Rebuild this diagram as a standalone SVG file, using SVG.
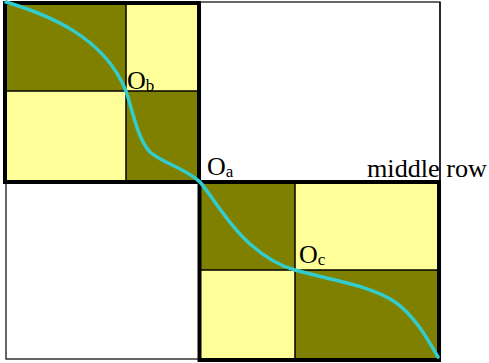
<svg xmlns="http://www.w3.org/2000/svg" width="489" height="363" viewBox="0 0 489 363">
<style>
.thin{fill:none;stroke:#000;stroke-width:1.2}
.thick{fill:none;stroke:#000;stroke-width:4}
.div{fill:none;stroke:#000;stroke-width:1.5}
.dk{fill:#808000}
.lt{fill:#FFFF99}
.lbl{font-family:"Liberation Serif","Times New Roman",serif;font-size:26px;fill:#000}
.sub{font-size:17px}
.curve{fill:none;stroke:#33CCCC;stroke-width:3.5;stroke-linecap:round}
</style>
<rect width="489" height="363" fill="#fff"/>
<g id="top-right-cell">
<rect class="thin" x="199" y="2" width="241" height="180"/>
</g>
<g id="bottom-left-cell">
<rect class="thin" x="6" y="182" width="193" height="177"/>
</g>
<g id="block-b">
<rect class="dk" x="5" y="3" width="121" height="88"/>
<rect class="lt" x="126" y="3" width="73" height="88"/>
<rect class="lt" x="5" y="91" width="121" height="91"/>
<rect class="dk" x="126" y="91" width="73" height="91"/>
<line class="div" x1="126" y1="3" x2="126" y2="182"/>
<line class="div" x1="5" y1="91" x2="199" y2="91"/>
<rect class="thick" x="5" y="3" width="194" height="179"/>
</g>
<g id="block-c">
<rect class="dk" x="199" y="182" width="96" height="88"/>
<rect class="lt" x="295" y="182" width="144" height="88"/>
<rect class="lt" x="199" y="270" width="96" height="90"/>
<rect class="dk" x="295" y="270" width="144" height="90"/>
<line class="div" x1="295" y1="182" x2="295" y2="360"/>
<line class="div" x1="199" y1="270" x2="439" y2="270"/>
<rect class="thick" x="199.5" y="182" width="239.5" height="178"/>
</g>
<g id="connectors">
<path class="curve" d="M6,2 C46,14 104,36 126,91 C133,112 138,140 150,152 C162,163 185,168 200,182 C212,196 228,225 250,244 C266,258 280,266 295,270 C330,280 370,285 395,302 C415,316 428,340 438,357"/>
</g>
<g id="labels">
<text class="lbl" x="127" y="89">O<tspan class="sub" dy="2">b</tspan></text>
<text class="lbl" x="207" y="175">O<tspan class="sub" dy="2">a</tspan></text>
<text class="lbl" x="299" y="263">O<tspan class="sub" dy="2">c</tspan></text>
<text class="lbl" x="367" y="177" textLength="120" lengthAdjust="spacingAndGlyphs">middle row</text>
</g>
<line class="thin" x1="440" y1="2" x2="440" y2="182"/>
</svg>
